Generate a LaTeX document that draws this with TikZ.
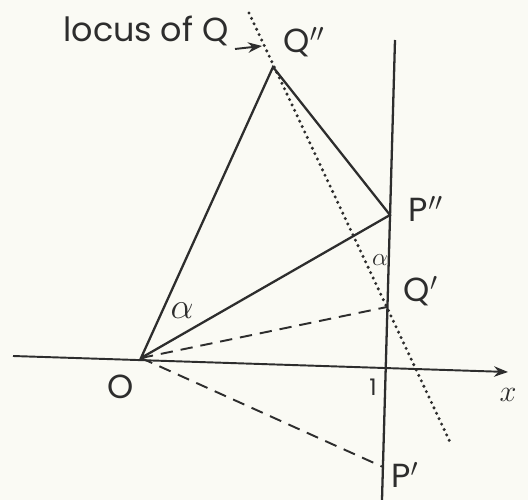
\documentclass[tikz,border=0pt]{standalone}
\usepackage{fontspec}
\usepackage{tikz}
\usetikzlibrary{arrows.meta, positioning}
\newfontfamily\lblfont{Poppins}
\definecolor{colPaper}{RGB}{250,250,244}
\definecolor{colInk}{RGB}{45,45,45}

\begin{document}
\begin{tikzpicture}[
  x=0.02cm, y=-0.02cm,
  ln/.style={colInk, line width=1.3pt},
  dashln/.style={colInk, line width=1.1pt, dash pattern=on 7pt off 4.5pt},
  dotln/.style={colInk, line width=1.9pt, line cap=round, dash pattern=on 0pt off 3.4pt},
  lbl/.style={colInk, inner sep=0pt, font=\lblfont\fontsize{19}{22}\selectfont},
  arr/.style={-Stealth, colInk, line width=1.1pt},
]
\fill[colPaper] (0,0) rectangle (528,500);
\useasboundingbox (0,0) rectangle (528,500);

\coordinate (O) at (141,358);
\coordinate (Qpp) at (273,67);
\coordinate (Ppp) at (390,215);
\coordinate (Qp) at (387,307);
\coordinate (Pp) at (383,467);
\coordinate (axL) at (13,356);
\coordinate (axR) at (508,372);
\coordinate (vT) at (395,40);
\coordinate (vB) at (382,500);
\coordinate (locT) at (249,13);
\coordinate (locB) at (450,442);
\coordinate (locA) at (235,49);
\coordinate (locH) at (262,46);

\draw[arr] (axL) -- (axR);
\draw[ln] (vT) -- (vB);
\draw[dotln] (locT) -- (locB);
\draw[ln] (O) -- (Qpp) -- (Ppp) -- cycle;
\draw[dashln] (O) -- (Qp);
\draw[dashln] (O) -- (Pp);
\draw[arr] (locA) -- (locH);

\node[lbl] (locus) at (146,31) {locus of Q};
\node[lbl] (Qpplbl) at (304,42) {Q$''$};
\node[lbl] (Ppplbl) at (426,209) {P$''$};
\node[lbl] (Qplbl) at (421,291) {Q$'$};
\node[lbl] (Pplbl) at (405,475) {P$'$};
\node[lbl] (Olbl) at (121,387) {O};
\node[lbl, font=\lblfont\fontsize{13}{15}\selectfont] (onelbl) at (373,387) {1};
\node[lbl] (xlbl) at (508,395) {$x$};
\node[lbl, font=\fontsize{22}{24}\selectfont] (alphaA) at (182,311) {$\alpha$};
\node[lbl, font=\fontsize{14}{16}\selectfont] (alphaB) at (380,260) {$\alpha$};
\end{tikzpicture}
\end{document}
